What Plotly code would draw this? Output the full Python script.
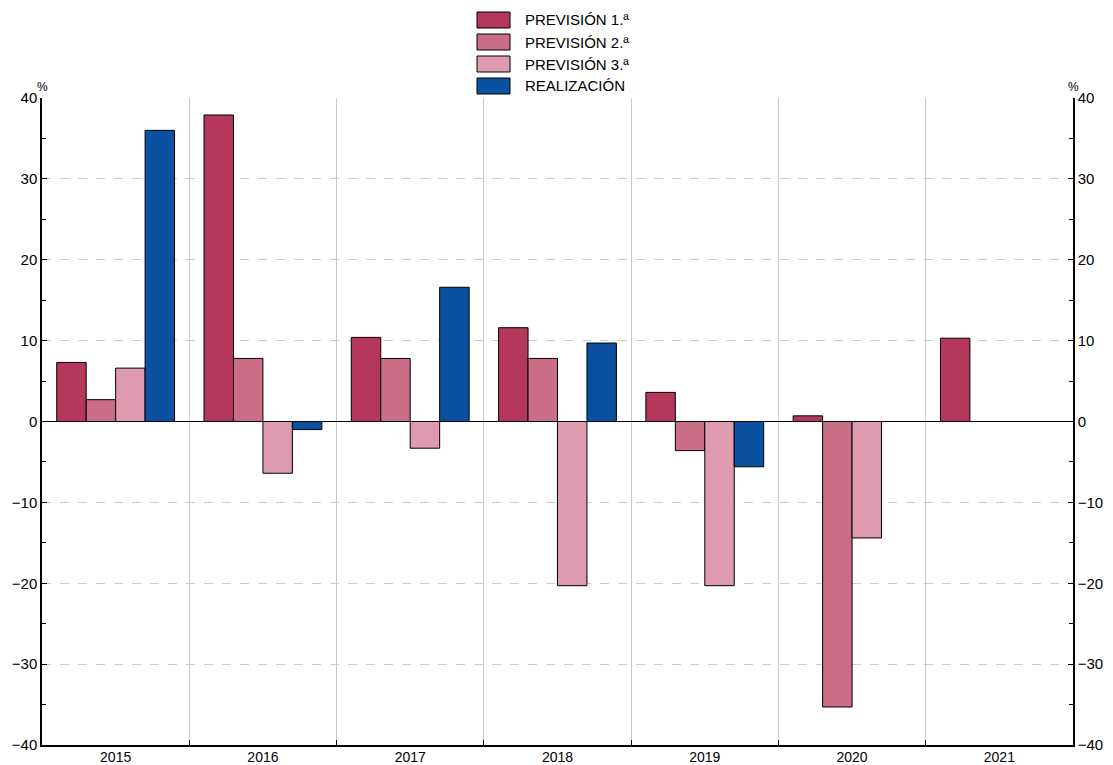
import plotly.graph_objects as go

years = ["2015", "2016", "2017", "2018", "2019", "2020", "2021"]
prevision_1 = [7.3, 37.9, 10.4, 11.6, 3.6, 0.7, 10.3]
prevision_2 = [2.7, 7.8, 7.8, 7.8, -3.6, -35.3, None]
prevision_3 = [6.6, -6.4, -3.3, -20.3, -20.3, -14.4, None]
realizacion = [36.0, -1.0, 16.6, 9.7, -5.6, None, None]

series_names = ["PREVISIÓN 1.ª", "PREVISIÓN 2.ª", "PREVISIÓN 3.ª", "REALIZACIÓN"]
series_values = [prevision_1, prevision_2, prevision_3, realizacion]
colors = ["#B5375B", "#CA6E88", "#DE9AAE", "#0B51A1"]

W, H = 1113, 765
L, R, T, B = 42, 40, 98, 20
pw, ph = W - L - R, H - T - B

def px_x(p):
    return (p - L) / pw

def px_y(p):
    return (H - B - p) / ph

font = "Liberation Sans, Arial, Helvetica, sans-serif"

fig = go.Figure()
for name, vals, c in zip(series_names, series_values, colors):
    fig.add_trace(go.Bar(
        x=years, y=vals, name=name, marker_color=c,
        marker_line=dict(color="black", width=1), showlegend=False,
    ))
# invisible trace on right axis
fig.add_trace(go.Scatter(x=years, y=[None] * len(years), yaxis="y2",
                         showlegend=False, hoverinfo="skip"))

shapes = []
annotations = []
for i, (name, c) in enumerate(zip(series_names, colors)):
    yc = 20 + i * 22
    shapes.append(dict(type="rect", xref="paper", yref="paper",
                       x0=px_x(477), x1=px_x(510), y0=px_y(yc - 8), y1=px_y(yc + 8),
                       fillcolor=c, line=dict(color="black", width=1)))
    annotations.append(dict(xref="paper", yref="paper", x=px_x(523), y=px_y(yc),
                            text=name, showarrow=False, xanchor="left", yanchor="middle",
                            font=dict(family=font, size=15, color="black")))
annotations.append(dict(xref="paper", yref="paper", x=0, y=px_y(87), text="%",
                        showarrow=False, xanchor="center", yanchor="middle",
                        font=dict(family=font, size=12, color="black")))
annotations.append(dict(xref="paper", yref="paper", x=1, y=px_y(87), text="%",
                        showarrow=False, xanchor="center", yanchor="middle",
                        font=dict(family=font, size=12, color="black")))

yaxis_common = dict(
    range=[-40, 40], dtick=10, ticks="inside", ticklen=5, tickcolor="black",
    showline=True, linecolor="black", linewidth=1.5, automargin=False,
    tickfont=dict(family=font, size=15, color="black"),
    minor=dict(dtick=5, ticks="inside", ticklen=4, tickcolor="black", showgrid=False),
)

fig.update_layout(
    width=W, height=H,
    margin=dict(l=L, r=R, t=T, b=B),
    plot_bgcolor="white", paper_bgcolor="white",
    barmode="group", bargap=0.2, bargroupgap=0,
    font=dict(family=font, color="black"),
    xaxis=dict(
        type="category", tickson="boundaries", ticks="inside", ticklen=5,
        tickcolor="black", showgrid=True, gridcolor="#C8C8C8", gridwidth=1,
        showline=True, linecolor="black", linewidth=1.5, automargin=False,
        tickfont=dict(family=font, size=14, color="black"), ticklabelstandoff=-2,
    ),
    yaxis=dict(**yaxis_common, showgrid=True, gridcolor="#CCCCCC", griddash="dash",
               gridwidth=1, zeroline=True, zerolinecolor="black", zerolinewidth=1),
    yaxis2=dict(**yaxis_common, overlaying="y", side="right", showgrid=False,
                zeroline=False),
    shapes=shapes,
    annotations=annotations,
)

fig.write_html("out.html", config={"displayModeBar": False},
               post_script="document.body.style.margin='0';document.body.style.overflow='hidden';")
